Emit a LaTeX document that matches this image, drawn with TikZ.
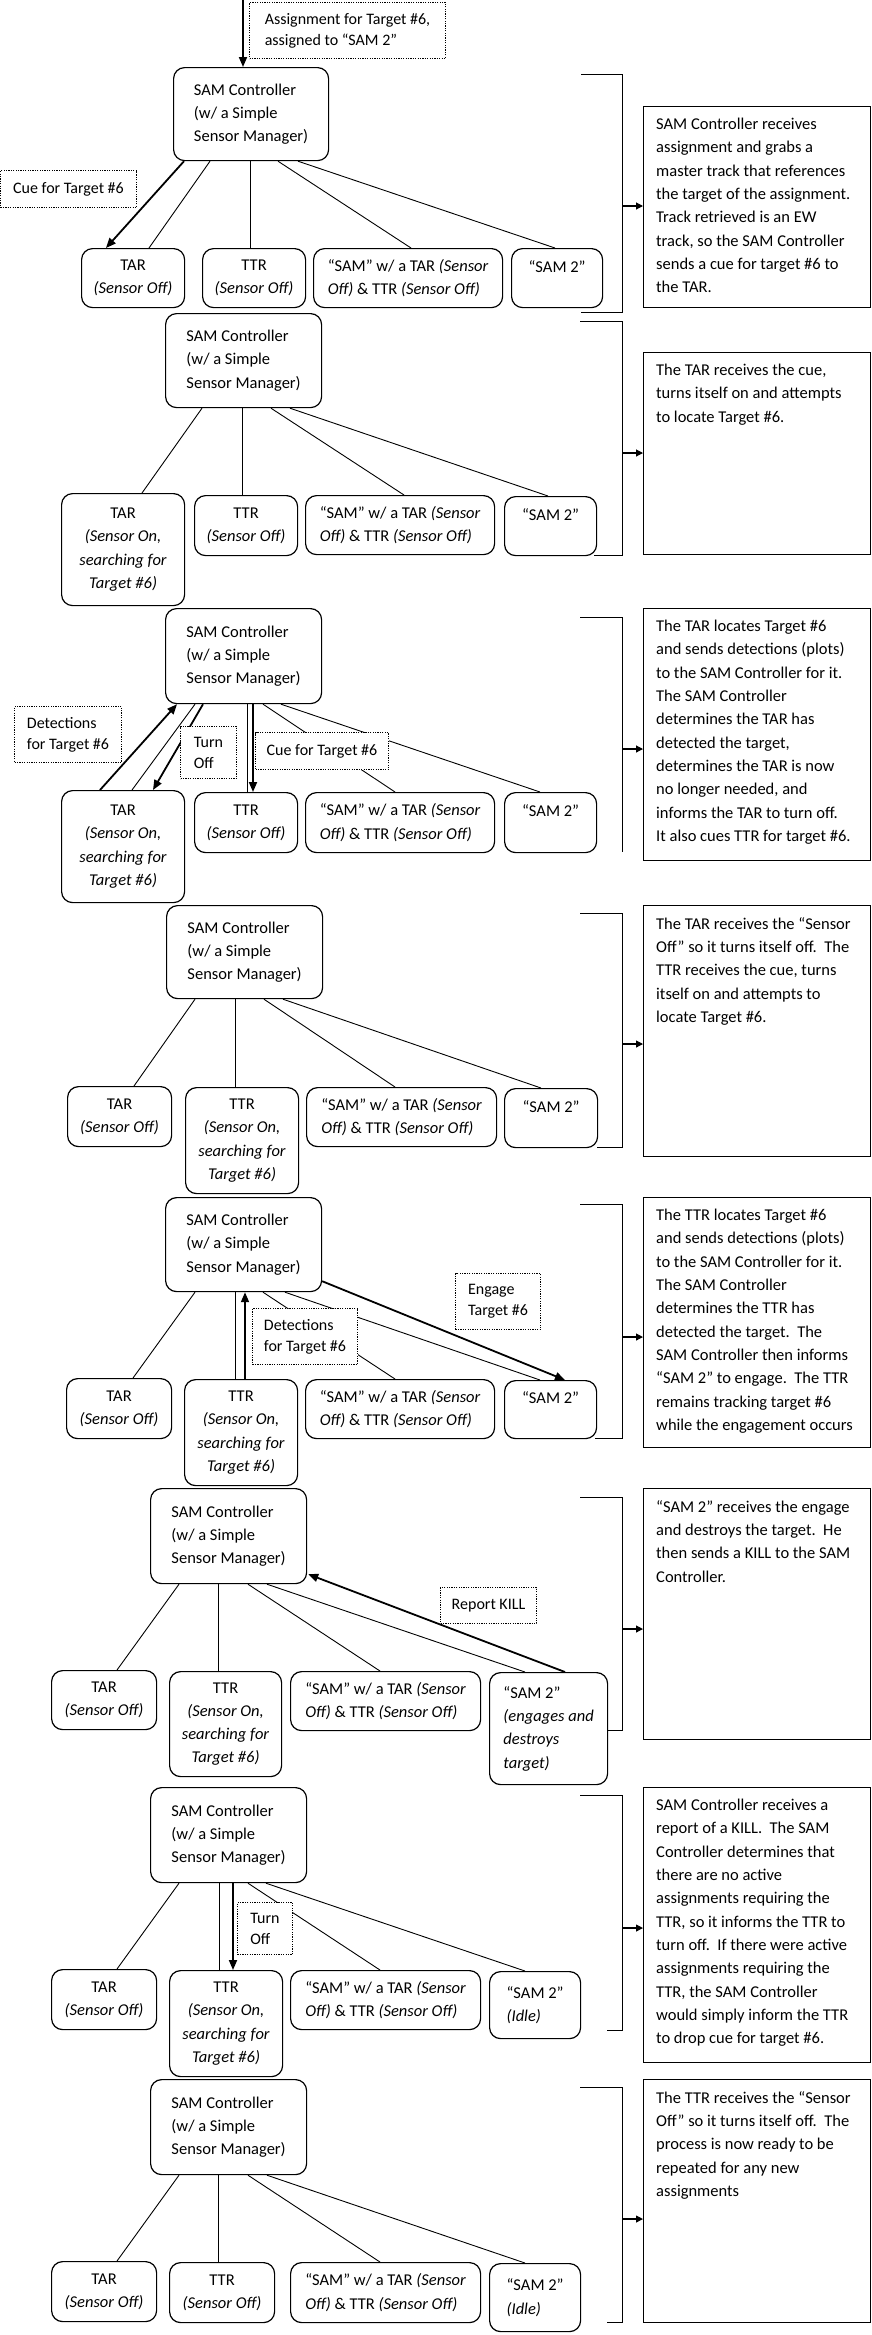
\documentclass[tikz,border=0pt]{standalone}
\usepackage{fontspec}
\setmainfont{Carlito}
\usetikzlibrary{arrows.meta,calc,positioning}

\newcommand{\bodyfont}{\fontsize{16.5pt}{23.3pt}\selectfont}
\newcommand{\tagfont}{\fontsize{16pt}{21pt}\selectfont}
\newcommand{\soff}{\textit{(Sensor Off)}}
\newcommand{\son}{\textit{(Sensor On,}\\\textit{searching for}\\\textit{Target \#6)}}
\newcommand{\dualsam}{“SAM” w/ a TAR \textit{(Sensor}\\\textit{Off)} \& TTR \textit{(Sensor Off)}}
\newcommand{\ctrltext}{SAM Controller\\(w/ a Simple\\Sensor Manager)}

\tikzset{
  unit/.style 2 args={draw,line width=1.2pt,rounded corners=11pt,fill=white,inner sep=0pt,
    minimum width=#1,minimum height=#2,anchor=north west,align=center,font=\bodyfont},
  tag/.style 2 args={draw,dash pattern=on 1.2pt off 1.2pt,line width=1pt,fill=white,inner sep=0pt,
    minimum width=#1,minimum height=#2,anchor=north west,align=left,font=\tagfont},
  note/.style 2 args={draw,line width=1.2pt,inner sep=0pt,minimum width=#1,minimum height=#2,anchor=north west},
  notetext/.style={inner sep=0pt,anchor=north west,align=left,font=\bodyfont},
  link/.style={line width=0.9pt},
  signal/.style={line width=1.8pt,-{Triangle[length=10pt,width=8pt]}},
  brace/.style={line width=1pt},
  pointer/.style={line width=1.1pt,-{Triangle[length=7pt,width=7pt]}},
}

\begin{document}
\begin{tikzpicture}[x=1pt,y=-1pt]
\useasboundingbox (0,0) rectangle (872,2335);

% ---- step 1: assignment arrives, cue to TAR
\node[unit={155pt}{93pt},align=left] (sam1) at (173,67) {\ctrltext};
\node[unit={103pt}{59pt}] (tar1) at (81,248) {TAR\\\soff};
\node[unit={103pt}{59pt}] (ttr1) at (202,248) {TTR\\\soff};
\node[unit={189pt}{59pt},align=left] (dual1) at (313,248) {\dualsam};
\node[unit={91pt}{59pt}] (two1) at (511,248) {“SAM 2”\\\mbox{}};
\node[note={227pt}{201pt}] (note1) at (643,106) {};
\node[notetext] at ([shift={(13,12)}]note1.north west) {SAM Controller receives\\assignment and grabs a\\master track that references\\the target of the assignment.\\Track retrieved is an EW\\track, so the SAM Controller\\sends a cue for target \#6 to\\the TAR.};
\coordinate (feed) at (243,0);
\draw[signal] (feed) -- (feed |- sam1.north);
\draw[signal] ([shift={(11,0)}]sam1.south west) -- ([shift={(25,0)}]tar1.north west);
\draw[link] ([shift={(37,0)}]sam1.south west) -- ([shift={(68,0)}]tar1.north west);
\coordinate (v1) at ([shift={(48,0)}]ttr1.north west);
\draw[link] (v1 |- sam1.south) -- (v1);
\draw[link] ([shift={(105,0)}]sam1.south west) -- ([shift={(98,0)}]dual1.north west);
\draw[link] ([shift={(125,0)}]sam1.south west) -- ([shift={(44,0)}]two1.north west);
\node[tag={196pt}{56pt}] (assign1) at (249,2) {Assignment for Target \#6,\\assigned to “SAM 2”};
\node[tag={136pt}{37pt}] (cue1) at (0,170) {Cue for Target \#6};
\draw[brace] (581,74) -- (622,74) -- (622,312) -- (581,312);
\coordinate (brk1) at (622,206);
\draw[pointer] (brk1) -- (brk1 -| note1.west);

% ---- step 2: TAR searching
\node[unit={156pt}{94pt},align=left] (sam2) at (165,313) {\ctrltext};
\node[unit={123pt}{112pt}] (tar2) at (61,493) {TAR\\\son};
\node[unit={103pt}{60pt}] (ttr2) at (194,495) {TTR\\\soff};
\node[unit={189pt}{59pt},align=left] (dual2) at (305,495) {\dualsam};
\node[unit={92pt}{59pt}] (two2) at (504,496) {“SAM 2”\\\mbox{}};
\node[note={227pt}{202pt}] (note2) at (643,352) {};
\node[notetext] at ([shift={(13,12)}]note2.north west) {The TAR receives the cue,\\turns itself on and attempts\\to locate Target \#6.};
\draw[link] ([shift={(37,0)}]sam2.south west) -- ([shift={(81,0)}]tar2.north west);
\coordinate (v2) at ([shift={(48,0)}]ttr2.north west);
\draw[link] (v2 |- sam2.south) -- (v2);
\draw[link] ([shift={(106,0)}]sam2.south west) -- ([shift={(99,0)}]dual2.north west);
\draw[link] ([shift={(125,0)}]sam2.south west) -- ([shift={(44,0)}]two2.north west);
\draw[brace] (580,321) -- (622,321) -- (622,555) -- (594,555);
\coordinate (brk2) at (622,453);
\draw[pointer] (brk2) -- (brk2 -| note2.west);

% ---- step 3: TAR detects, TAR off, cue TTR
\node[unit={156pt}{95pt},align=left] (sam3) at (165,608) {\ctrltext};
\node[unit={123pt}{112pt}] (tar3) at (61,790) {TAR\\\son};
\node[unit={103pt}{60pt}] (ttr3) at (194,792) {TTR\\\soff};
\node[unit={189pt}{60pt},align=left] (dual3) at (305,792) {\dualsam};
\node[unit={92pt}{60pt}] (two3) at (504,792) {“SAM 2”\\\mbox{}};
\node[note={227pt}{252pt}] (note3) at (643,608) {};
\node[notetext] at ([shift={(13,12)}]note3.north west) {The TAR locates Target \#6\\and sends detections (plots)\\to the SAM Controller for it.\\The SAM Controller\\determines the TAR has\\detected the target,\\determines the TAR is now\\no longer needed, and\\informs the TAR to turn off.\\It also cues TTR for target \#6.};
\draw[signal] ([shift={(39,0)}]tar3.north west) -- ([shift={(12,0)}]sam3.south west);
\draw[link] ([shift={(30,0)}]sam3.south west) -- ([shift={(71,0)}]tar3.north west);
\draw[signal] ([shift={(38,0)}]sam3.south west) -- ([shift={(92,0)}]tar3.north west);
\coordinate (v3) at ([shift={(53,0)}]ttr3.north west);
\draw[link] (v3 |- sam3.south) -- (v3);
\coordinate (w3) at ([shift={(59,0)}]ttr3.north west);
\draw[signal] (w3 |- sam3.south) -- (w3);
\draw[link] ([shift={(98,0)}]sam3.south west) -- ([shift={(90,0)}]dual3.north west);
\draw[link] ([shift={(116,0)}]sam3.south west) -- ([shift={(36,0)}]two3.north west);
\node[tag={107pt}{56pt}] (det3) at (14,706) {Detections\\for Target \#6};
\node[tag={56pt}{52pt}] (turn3) at (180,726) {Turn\\Off};
\node[tag={133pt}{37pt}] (cue3) at (255,732) {Cue for Target \#6};
\draw[brace] (580,617) -- (622,617) -- (622,852);
\coordinate (brk3) at (622,749);
\draw[pointer] (brk3) -- (brk3 -| note3.west);

% ---- step 4: TAR off, TTR searching
\node[unit={156pt}{93pt},align=left] (sam4) at (166,905) {\ctrltext};
\node[unit={104pt}{60pt}] (tar4) at (67,1086) {TAR\\\soff};
\node[unit={113pt}{106pt}] (ttr4) at (185,1087) {TTR\\\son};
\node[unit={190pt}{59pt},align=left] (dual4) at (306,1087) {\dualsam};
\node[unit={93pt}{59pt}] (two4) at (504,1088) {“SAM 2”\\\mbox{}};
\node[note={227pt}{251pt}] (note4) at (643,905) {};
\node[notetext] at ([shift={(13,12)}]note4.north west) {The TAR receives the “Sensor\\Off” so it turns itself off.\ \ The\\TTR receives the cue, turns\\itself on and attempts to\\locate Target \#6.};
\draw[link] ([shift={(29,0)}]sam4.south west) -- ([shift={(67,0)}]tar4.north west);
\coordinate (v4) at ([shift={(50,0)}]ttr4.north west);
\draw[link] (v4 |- sam4.south) -- (v4);
\draw[link] ([shift={(98,0)}]sam4.south west) -- ([shift={(89,0)}]dual4.north west);
\draw[link] ([shift={(117,0)}]sam4.south west) -- ([shift={(37,0)}]two4.north west);
\draw[brace] (580,913) -- (622,913) -- (622,1147) -- (597,1147);
\coordinate (brk4) at (622,1044);
\draw[pointer] (brk4) -- (brk4 -| note4.west);

% ---- step 5: TTR detects, engage SAM 2
\node[unit={156pt}{94pt},align=left] (sam5) at (165,1197) {\ctrltext};
\node[unit={105pt}{60pt}] (tar5) at (66,1378) {TAR\\\soff};
\node[unit={113pt}{106pt}] (ttr5) at (184,1379) {TTR\\\son};
\node[unit={189pt}{59pt},align=left] (dual5) at (305,1379) {\dualsam};
\node[unit={92pt}{58pt}] (two5) at (504,1380) {“SAM 2”\\\mbox{}};
\node[note={227pt}{250pt}] (note5) at (643,1197) {};
\node[notetext] at ([shift={(13,12)}]note5.north west) {The TTR locates Target \#6\\and sends detections (plots)\\to the SAM Controller for it.\\The SAM Controller\\determines the TTR has\\detected the target.\ \ The\\SAM Controller then informs\\“SAM 2” to engage.\ \ The TTR\\remains tracking target \#6\\while the engagement occurs};
\draw[link] ([shift={(30,0)}]sam5.south west) -- ([shift={(67,0)}]tar5.north west);
\coordinate (v5) at ([shift={(51,0)}]ttr5.north west);
\draw[link] (v5 |- sam5.south) -- (v5);
\coordinate (w5) at ([shift={(61,0)}]ttr5.north west);
\draw[signal] (w5) -- (w5 |- sam5.south);
\draw[link] ([shift={(98,0)}]sam5.south west) -- ([shift={(90,0)}]dual5.north west);
\draw[link] ([shift={(120,0)}]sam5.south west) -- ([shift={(36,0)}]two5.north west);
\draw[signal] ([shift={(0,-11)}]sam5.south east) -- ([shift={(61,0)}]two5.north west);
\node[tag={85pt}{56pt}] (eng5) at (455,1273) {Engage\\Target \#6};
\node[tag={105pt}{56pt}] (det5) at (252,1308) {Detections\\for Target \#6};
\draw[brace] (580,1204) -- (622,1204) -- (622,1438) -- (595,1438);
\coordinate (brk5) at (622,1337);
\draw[pointer] (brk5) -- (brk5 -| note5.west);

% ---- step 6: SAM 2 engages, reports kill
\node[unit={156pt}{95pt},align=left] (sam6) at (150,1488) {\ctrltext};
\node[unit={105pt}{59pt}] (tar6) at (51,1670) {TAR\\\soff};
\node[unit={112pt}{105pt}] (ttr6) at (169,1671) {TTR\\\son};
\node[unit={190pt}{59pt},align=left] (dual6) at (290,1671) {\dualsam};
\node[unit={118pt}{112pt},align=left] (two6) at (489,1672) {“SAM 2”\\\textit{(engages and}\\\textit{destroys}\\\textit{target)}};
\node[note={227pt}{251pt}] (note6) at (643,1488) {};
\node[notetext] at ([shift={(13,12)}]note6.north west) {“SAM 2” receives the engage\\and destroys the target.\ \ He\\then sends a KILL to the SAM\\Controller.};
\draw[link] ([shift={(29,0)}]sam6.south west) -- ([shift={(66,0)}]tar6.north west);
\coordinate (v6) at ([shift={(49,0)}]ttr6.north west);
\draw[link] (v6 |- sam6.south) -- (v6);
\draw[link] ([shift={(98,0)}]sam6.south west) -- ([shift={(90,0)}]dual6.north west);
\draw[link] ([shift={(117,0)}]sam6.south west) -- ([shift={(36,0)}]two6.north west);
\draw[signal] ([shift={(76,0)}]two6.north west) -- ([shift={(1,-10)}]sam6.south east);
\node[tag={96pt}{36pt}] (kill6) at (440,1587) {Report KILL};
\draw[brace] (580,1497) -- (622,1497) -- (622,1730) -- (608,1730);
\coordinate (brk6) at (622,1629);
\draw[pointer] (brk6) -- (brk6 -| note6.west);

% ---- step 7: kill received, TTR off
\node[unit={156pt}{95pt},align=left] (sam7) at (150,1787) {\ctrltext};
\node[unit={105pt}{60pt}] (tar7) at (51,1969) {TAR\\\soff};
\node[unit={113pt}{106pt}] (ttr7) at (169,1970) {TTR\\\son};
\node[unit={190pt}{59pt},align=left] (dual7) at (290,1970) {\dualsam};
\node[unit={91pt}{67pt},align=left] (two7) at (489,1971) {“SAM 2”\\\textit{(Idle)}};
\node[note={227pt}{275pt}] (note7) at (643,1787) {};
\node[notetext] at ([shift={(13,12)}]note7.north west) {SAM Controller receives a\\report of a KILL.\ \ The SAM\\Controller determines that\\there are no active\\assignments requiring the\\TTR, so it informs the TTR to\\turn off.\ \ If there were active\\assignments requiring the\\TTR, the SAM Controller\\would simply inform the TTR\\to drop cue for target \#6.};
\draw[link] ([shift={(29,0)}]sam7.south west) -- ([shift={(66,0)}]tar7.north west);
\coordinate (v7) at ([shift={(50,0)}]ttr7.north west);
\draw[link] (v7 |- sam7.south) -- (v7);
\coordinate (w7) at ([shift={(64,0)}]ttr7.north west);
\draw[signal] (w7 |- sam7.south) -- (w7);
\draw[link] ([shift={(98,0)}]sam7.south west) -- ([shift={(90,0)}]dual7.north west);
\draw[link] ([shift={(116,0)}]sam7.south west) -- ([shift={(36,0)}]two7.north west);
\node[tag={55pt}{52pt}] (turn7) at (237,1902) {Turn\\Off};
\draw[brace] (580,1795) -- (622,1795) -- (622,2030) -- (607,2030);
\coordinate (brk7) at (622,1928);
\draw[pointer] (brk7) -- (brk7 -| note7.west);

% ---- step 8: back to idle
\node[unit={156pt}{95pt},align=left] (sam8) at (150,2079) {\ctrltext};
\node[unit={105pt}{60pt}] (tar8) at (51,2261) {TAR\\\soff};
\node[unit={105pt}{60pt}] (ttr8) at (169,2262) {TTR\\\soff};
\node[unit={190pt}{60pt},align=left] (dual8) at (290,2262) {\dualsam};
\node[unit={91pt}{68pt},align=left] (two8) at (489,2263) {“SAM 2”\\\textit{(Idle)}};
\node[note={227pt}{243pt}] (note8) at (643,2079) {};
\node[notetext] at ([shift={(13,12)}]note8.north west) {The TTR receives the “Sensor\\Off” so it turns itself off.\ \ The\\process is now ready to be\\repeated for any new\\assignments};
\draw[link] ([shift={(29,0)}]sam8.south west) -- ([shift={(66,0)}]tar8.north west);
\coordinate (v8) at ([shift={(49,0)}]ttr8.north west);
\draw[link] (v8 |- sam8.south) -- (v8);
\draw[link] ([shift={(98,0)}]sam8.south west) -- ([shift={(90,0)}]dual8.north west);
\draw[link] ([shift={(117,0)}]sam8.south west) -- ([shift={(36,0)}]two8.north west);
\draw[brace] (580,2087) -- (622,2087) -- (622,2322) -- (607,2322);
\coordinate (brk8) at (622,2219);
\draw[pointer] (brk8) -- (brk8 -| note8.west);
\end{tikzpicture}
\end{document}
